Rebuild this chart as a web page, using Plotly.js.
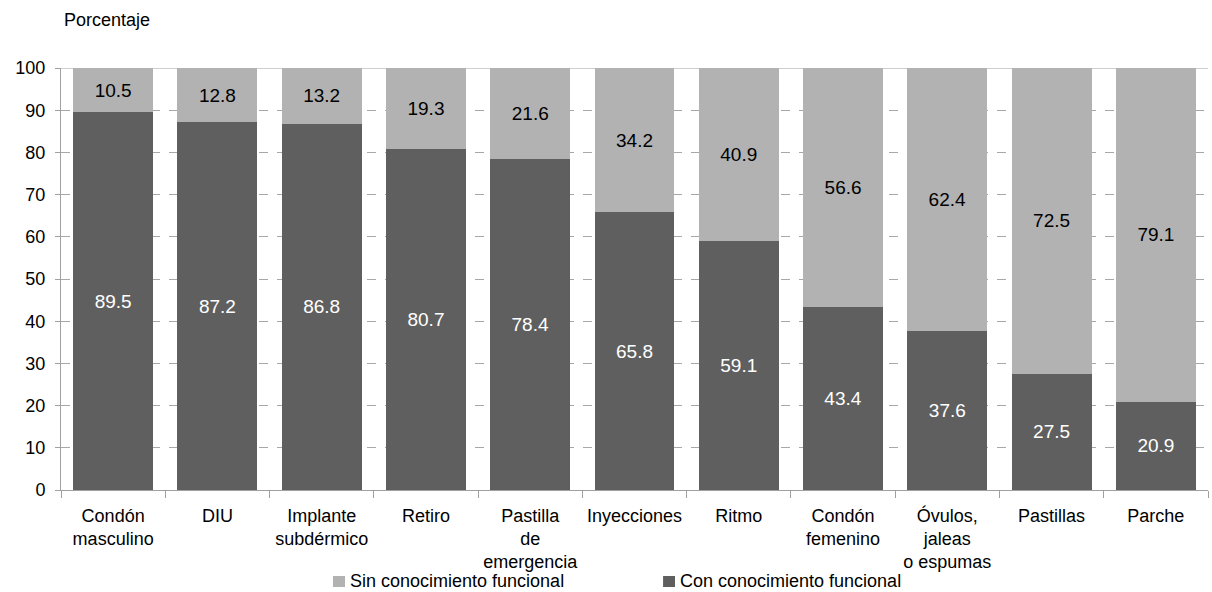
<!DOCTYPE html>
<html>
<head>
<meta charset="utf-8">
<script src="https://cdn.plot.ly/plotly-3.0.1.min.js"></script>
<style>html,body{margin:0;padding:0;background:#fff;}#chart{width:1212px;height:592px;}</style>
</head>
<body>
<div id="chart"></div>
<script>
const categories = ["Condón<br>masculino","DIU","Implante<br>subdérmico","Retiro","Pastilla<br>de<br>emergencia","Inyecciones","Ritmo","Condón<br>femenino","Óvulos,<br>jaleas<br>o espumas","Pastillas","Parche"];
const conValues = [89.5,87.2,86.8,80.7,78.4,65.8,59.1,43.4,37.6,27.5,20.9];
const sinValues = [10.5,12.8,13.2,19.3,21.6,34.2,40.9,56.6,62.4,72.5,79.1];
const seriesNames = ["Con conocimiento funcional","Sin conocimiento funcional"];
const seriesColors = ["#5f5f5f","#b2b2b2"];
const yTicks = [0,10,20,30,40,50,60,70,80,90,100];

const font = "Liberation Sans, Arial, sans-serif";
const traces = [
  {type:"bar", name:seriesNames[0], x:categories, y:conValues,
   marker:{color:seriesColors[0]}, text:conValues.map(v=>v.toFixed(1)),
   textposition:"inside", insidetextanchor:"middle", constraintext:"none",
   textfont:{color:"#ffffff", size:19, family:font}, hoverinfo:"none"},
  {type:"bar", name:seriesNames[1], x:categories, y:sinValues,
   marker:{color:seriesColors[1]}, text:sinValues.map(v=>v.toFixed(1)),
   textposition:"inside", insidetextanchor:"middle", constraintext:"none",
   textfont:{color:"#000000", size:19, family:font}, hoverinfo:"none"}
];
// legend drawn as small squares + text (Sin first, then Con)
const legendItems = [
  {name:seriesNames[1], color:seriesColors[1], x0:0.2371, x1:0.2476, tx:0.2502},
  {name:seriesNames[0], color:seriesColors[0], x0:0.5249, x1:0.5353, tx:0.5379}
];
const shapes = [{type:"line", xref:"paper", yref:"y", x0:0, x1:1, y0:100, y1:100, line:{color:"#a0a0a0", width:1}, layer:"below"}];
const annotations = [{text:"Porcentaje", xref:"paper", yref:"paper", x:0.001, y:1.1137, xanchor:"left", yanchor:"middle",
    showarrow:false, font:{size:18, family:font, color:"#000"}}];
legendItems.forEach(it=>{
  shapes.push({type:"rect", xref:"paper", yref:"paper", x0:it.x0, x1:it.x1, y0:-0.2299, y1:-0.2038,
    fillcolor:it.color, line:{width:0}});
  annotations.push({text:it.name, xref:"paper", yref:"paper", x:it.tx, y:-0.2145, xanchor:"left", yanchor:"middle",
    showarrow:false, font:{size:18, family:font, color:"#000"}});
});
const layout = {
  width:1212, height:592,
  margin:{l:61, r:4, t:68, b:102},
  barmode:"stack", bargap:0.233,
  paper_bgcolor:"#ffffff", plot_bgcolor:"#ffffff",
  font:{family:font, size:18, color:"#000"},
  xaxis:{type:"category", tickson:"boundaries", ticks:"outside", ticklen:7, tickcolor:"#a0a0a0",
    showline:true, linecolor:"#a0a0a0", linewidth:1, showgrid:false, ticklabelstandoff:9,
    tickfont:{size:18, family:font, color:"#000"}},
  yaxis:{range:[0,100], tickvals:yTicks, ticks:"outside", ticklen:5, tickcolor:"#a0a0a0",
    showline:true, linecolor:"#a0a0a0", linewidth:1, showgrid:true, gridcolor:"#a8a8a8",
    griddash:"dash", gridwidth:1, zeroline:false, ticklabelstandoff:6,
    tickfont:{size:18, family:font, color:"#000"}},
  shapes:shapes,
  showlegend:false,
  annotations:annotations
};
Plotly.newPlot("chart", traces, layout, {displayModeBar:false, staticPlot:true});
</script>
</body>
</html>
